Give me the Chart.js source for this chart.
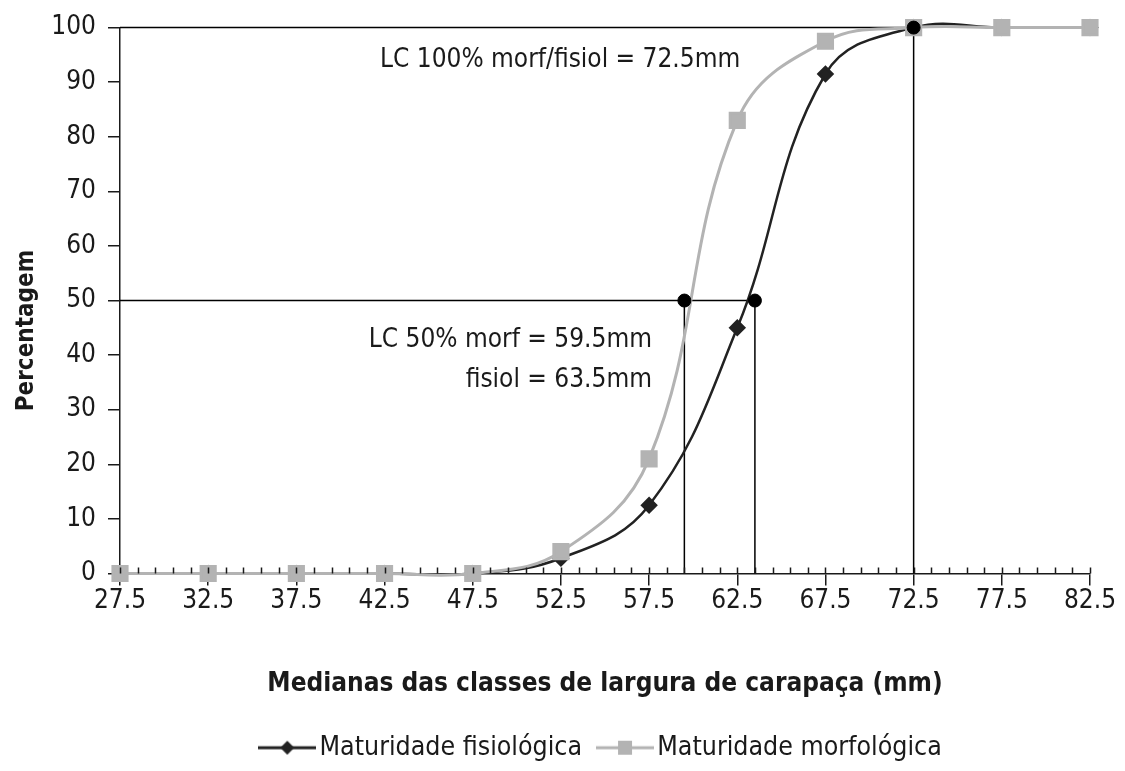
<!DOCTYPE html>
<html>
<head>
<meta charset="utf-8">
<script src="https://cdn.jsdelivr.net/npm/chart.js@4.4.1/dist/chart.umd.min.js"></script>
<style>
  html, body { margin: 0; padding: 0; background: #fff; }
  #wrap { width: 1125px; height: 771px; }
</style>
</head>
<body>
<div id="wrap"><canvas id="maturityChart" width="1125" height="771"></canvas></div>
<script>
    // class medians (mm) and cumulative maturity (%)
    const classMedians = [27.5, 32.5, 37.5, 42.5, 47.5, 52.5, 57.5, 62.5, 67.5, 72.5, 77.5, 82.5];
    const fisiolValues = [0, 0, 0, 0, 0, 2.8, 12.5, 45, 91.5, 100, 100, 100];
    const morfValues   = [0, 0, 0, 0, 0, 4, 21, 83, 97.5, 100, 100, 100];
    const yTicks = [0, 10, 20, 30, 40, 50, 60, 70, 80, 90, 100];

    // size at maturity
    const lc50Morf = 59.5;
    const lc50Fisiol = 63.5;
    const lc100 = 72.5;

    const FONT = "'Liberation Sans Narrow', 'Arial Narrow', 'DejaVu Sans Condensed', sans-serif";
    const INK = '#1a1a1a';
    const DARK = '#222';
    const GRAY = '#b3b3b3';

    function toPoints(values) {
        return values.map((v, i) => ({ x: classMedians[i], y: v }));
    }

    // line+marker swatch for the legend
    function legendSwatch(color, marker) {
        const c = document.createElement('canvas');
        c.width = 58; c.height = 16;
        const g = c.getContext('2d');
        g.strokeStyle = color;
        g.lineWidth = 3;
        g.beginPath(); g.moveTo(0, 8); g.lineTo(58, 8); g.stroke();
        g.fillStyle = color;
        if (marker === 'diamond') {
            g.beginPath(); g.moveTo(29, 1); g.lineTo(36, 8); g.lineTo(29, 15); g.lineTo(22, 8); g.closePath(); g.fill();
        } else {
            g.fillRect(22, 1, 14, 14);
        }
        return c;
    }

    // minor ticks every 1 mm along the x axis, pointing up into the plot
    const minorTicks = {
        id: 'minorTicks',
        afterDatasetsDraw(chart) {
            const x = chart.scales.x, y = chart.scales.y;
            const ctx = chart.ctx;
            const y0 = y.getPixelForValue(0);
            ctx.save();
            ctx.strokeStyle = INK;
            ctx.lineWidth = 1.5;
            ctx.beginPath();
            for (let v = classMedians[0]; v <= classMedians[classMedians.length - 1] + 0.01; v += 1) {
                const px = Math.round(x.getPixelForValue(v)) + 0.5;
                ctx.moveTo(px, y0 - 6);
                ctx.lineTo(px, y0);
            }
            ctx.stroke();
            ctx.restore();
        }
    };

    // centre the legend under the plot area rather than the whole canvas
    const legendUnderPlot = {
        id: 'legendUnderPlot',
        afterLayout(chart) {
            const lg = chart.legend, area = chart.chartArea;
            const shift = (area.left + area.right) / 2 - (lg.left + lg.right) / 2;
            lg.left += shift;
            lg.right += shift;
        }
    };

    // y title sits a little below the middle of the axis; notes for the LC lines
    const notes = {
        id: 'notes',
        afterDraw(chart) {
            const ctx = chart.ctx;
            const area = chart.chartArea;
            ctx.save();
            ctx.fillStyle = INK;
            ctx.font = 'bold 24px ' + FONT;
            ctx.textAlign = 'center';
            ctx.textBaseline = 'middle';
            ctx.translate(27, (area.top + area.bottom) / 2 + 30);
            ctx.rotate(-Math.PI / 2);
            ctx.fillText('Percentagem', 0, 0);
            ctx.restore();

            ctx.save();
            ctx.fillStyle = INK;
            ctx.font = '26px ' + FONT;
            ctx.textBaseline = 'middle';
            ctx.textAlign = 'left';
            ctx.fillText('LC 100% morf/fisiol = ' + lc100 + 'mm', 380, 60);
            ctx.textAlign = 'right';
            ctx.fillText('LC 50% morf = ' + lc50Morf + 'mm', 652, 340);
            ctx.fillText('fisiol = ' + lc50Fisiol + 'mm', 652, 380);
            ctx.restore();
        }
    };

    const refLine = (pts) => ({
        data: pts,
        borderColor: '#000',
        borderWidth: 1.5,
        pointRadius: 0,
        tension: 0,
        clip: false,
        order: 3,
        legend: false
    });

    const ctx = document.getElementById('maturityChart').getContext('2d');
    new Chart(ctx, {
        type: 'line',
        data: {
            datasets: [
                {
                    label: 'Maturidade fisiológica',
                    data: toPoints(fisiolValues),
                    borderColor: DARK,
                    backgroundColor: DARK,
                    borderWidth: 2.5,
                    pointStyle: 'rectRot',
                    pointRadius: 7,
                    tension: 0.4,
                    capBezierPoints: false,
                    clip: false,
                    order: 2,
                    swatch: legendSwatch(DARK, 'diamond')
                },
                {
                    label: 'Maturidade morfológica',
                    data: toPoints(morfValues),
                    borderColor: GRAY,
                    backgroundColor: GRAY,
                    borderWidth: 3,
                    pointStyle: 'rect',
                    pointRadius: 10,
                    tension: 0.4,
                    capBezierPoints: false,
                    clip: false,
                    order: 1,
                    swatch: legendSwatch(GRAY, 'square')
                },
                refLine([{ x: classMedians[0], y: 100 }, { x: lc100, y: 100 }, { x: lc100, y: 0 }]),
                refLine([{ x: classMedians[0], y: 50 }, { x: lc50Fisiol, y: 50 }, { x: lc50Fisiol, y: 0 }]),
                refLine([{ x: lc50Morf, y: 50 }, { x: lc50Morf, y: 0 }]),
                {
                    data: [{ x: lc50Morf, y: 50 }, { x: lc50Fisiol, y: 50 }, { x: lc100, y: 100 }],
                    showLine: false,
                    pointStyle: 'circle',
                    pointRadius: 6.5,
                    backgroundColor: '#000',
                    borderColor: '#000',
                    clip: false,
                    order: 0,
                    legend: false
                }
            ]
        },
        options: {
            responsive: false,
            animation: false,
            layout: { padding: { top: 25, right: 35, left: 8, bottom: 0 } },
            plugins: {
                tooltip: { enabled: false },
                legend: {
                    position: 'bottom',
                    labels: {
                        color: INK,
                        font: { family: FONT, size: 26.5 },
                        usePointStyle: true,
                        pointStyleWidth: 38,
                        padding: 24,
                        filter: (item, data) => data.datasets[item.datasetIndex].legend !== false,
                        generateLabels(chart) {
                            return chart.data.datasets.map((ds, i) => ({
                                text: ds.label,
                                datasetIndex: i,
                                pointStyle: ds.swatch,
                                fillStyle: ds.backgroundColor,
                                strokeStyle: ds.borderColor,
                                lineWidth: 0,
                                fontColor: INK,
                                hidden: false
                            }));
                        }
                    }
                }
            },
            scales: {
                x: {
                    type: 'linear',
                    min: classMedians[0],
                    max: classMedians[classMedians.length - 1],
                    afterBuildTicks: (scale) => { scale.ticks = classMedians.map(v => ({ value: v })); },
                    afterFit: (scale) => { scale.height = 137; },
                    border: { display: true, color: INK, width: 1.5 },
                    grid: { drawOnChartArea: false, color: INK, lineWidth: 1.5, tickLength: 12 },
                    ticks: {
                        color: INK,
                        font: { family: FONT, size: 26 },
                        padding: 0,
                        maxRotation: 0,
                        callback: (v) => v.toFixed(1)
                    },
                    title: {
                        display: true,
                        text: 'Medianas das classes de largura de carapaça (mm)',
                        color: INK,
                        font: { family: FONT, size: 26, weight: 'bold' },
                        padding: { top: 0, bottom: 11 }
                    }
                },
                y: {
                    min: 0,
                    max: 100,
                    afterBuildTicks: (scale) => { scale.ticks = yTicks.map(v => ({ value: v })); },
                    afterFit: (scale) => { scale.width = 112; },
                    border: { display: true, color: INK, width: 1.5 },
                    grid: { drawOnChartArea: false, color: INK, lineWidth: 1.5, tickLength: 12 },
                    ticks: {
                        color: INK,
                        font: { family: FONT, size: 26 },
                        padding: 12
                    }
                }
            }
        },
        plugins: [minorTicks, legendUnderPlot, notes]
    });
</script>
</body>
</html>
